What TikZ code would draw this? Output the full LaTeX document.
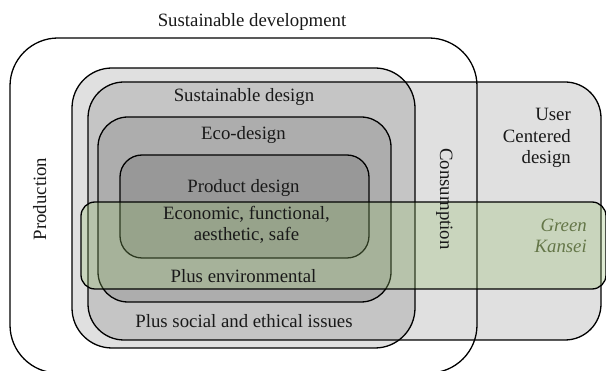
\documentclass[tikz,border=0pt]{standalone}
\usepackage{fontspec}
\setmainfont{Liberation Serif}
\newcommand\lblfont{\fontsize{18.8}{21.5}\selectfont}
\definecolor{kgreen}{RGB}{150,190,110}
\definecolor{ktext}{RGB}{100,118,72}
\tikzset{
  box/.style={draw=black, line width=1.3pt},
  grayfill/.style={box, fill=black, fill opacity=0.12},
  greenfill/.style={box, fill=kgreen, fill opacity=0.3},
  lbl/.style={font=\lblfont, inner sep=0pt, text=black!90, text opacity=1},
}
\begin{document}
\begin{tikzpicture}[x=1pt,y=-1pt]
\useasboundingbox (0,0) rectangle (606,371);
% shapes
\draw[box, rounded corners=48pt] (10,38) rectangle (477,373);
\draw[grayfill, rounded corners=40pt] (72,68) rectangle (415,348);
\draw[grayfill, rounded corners=36pt] (88,82) rectangle (601,340);
\draw[grayfill, rounded corners=30pt] (98,117) rectangle (391,302);
\draw[grayfill, rounded corners=22pt] (120,155) rectangle (369,258);
\draw[greenfill, rounded corners=14pt] (81,202) rectangle (606,289);
% labels
\node[lbl, anchor=base] (sdev) at (252,27) {Sustainable development};
\node[lbl, anchor=base] (sdes) at (244,102) {Sustainable design};
\node[lbl, anchor=base] (eco) at (243.5,140) {Eco-design};
\node[lbl, anchor=base] (prod) at (243.5,193) {Product design};
\node[lbl, anchor=base, align=center] (econ) at (246.5,241) {Economic, functional,\\aesthetic, safe};
\node[lbl, anchor=base] (env) at (243.5,283) {Plus environmental};
\node[lbl, anchor=base] (soc) at (244,328) {Plus social and ethical issues};
\node[lbl, anchor=base east, align=right] (ucd) at (571,164) {User\\Centered\\design};
\node[lbl, anchor=base east, align=right, text=ktext, font=\lblfont\itshape] (gk) at (587,253) {Green\\Kansei};
\node[lbl, anchor=base, rotate=90] (pro) at (46,199) {Production};
\node[lbl, anchor=base, rotate=-90] (con) at (440,199) {Consumption};
\end{tikzpicture}
\end{document}
